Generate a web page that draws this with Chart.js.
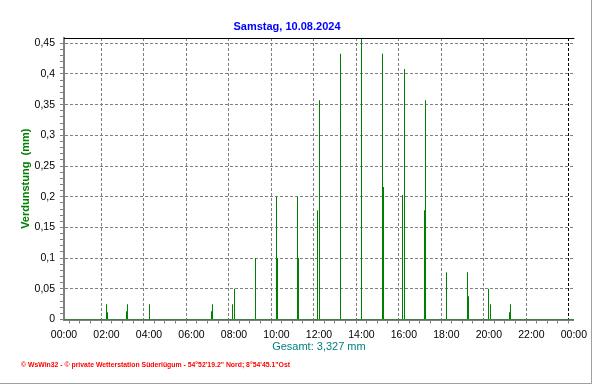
<!DOCTYPE html>
<html><head><meta charset="utf-8">
<script src="https://cdn.jsdelivr.net/npm/chart.js@4/dist/chart.umd.min.js"></script>
<style>html,body{margin:0;padding:0;background:#fff}canvas{display:block}</style>
</head><body>
<canvas id="c" width="592" height="384"></canvas>
<script>
const chartTitle = 'Samstag, 10.08.2024';
const yAxisTitle = 'Verdunstung  (mm)';
const totalText = 'Gesamt: 3,327 mm';
const footerText = '\u00A9 WsWin32 - \u00A9 private Wetterstation S\u00FCderl\u00FCgum - 54\u00B052\'19.2" Nord; 8\u00B054\'45.1"Ost';

const xTickLabels = ['00:00','02:00','04:00','06:00','08:00','10:00','12:00','14:00','16:00','18:00','20:00','22:00','00:00'];
const yTickLabels = ['0','0,05','0,1','0,15','0,2','0,25','0,3','0,35','0,4','0,45'];

// hourly values (minutes since midnight)
const hourlyMinutes = [120,180,240,420,480,540,600,660,720,780,840,900,960,1020,1080,1140,1200,1260];
const hourlyValues  = [0.025,0.025,0.025,0.025,0.05,0.1,0.2,0.2,0.357,0.433,0.461,0.433,0.408,0.357,0.077,0.077,0.05,0.025];
// secondary (short) bars next to the hourly lines
const detailMinutes = [123,177,417,477,603,663,717,903,957,1017,1143,1203,1257];
const detailValues  = [0.012,0.0135,0.0135,0.025,0.1,0.1,0.178,0.216,0.203,0.178,0.038,0.025,0.012];
// zero line
const baselineMinutes = [0,1440];
const baselineValues = [0,0];

const GREEN = '#008000';
const GRID = '#808080';
const tickFont = {family: "'Liberation Sans', Arial, sans-serif", size: 10.5};

const pts = (xs, ys) => xs.map((x, i) => ({x: x, y: ys[i]}));

const decor = {
  id: 'decor',
  beforeDraw(chart) {
    const c = chart.ctx;
    c.save(); c.fillStyle = '#fff'; c.fillRect(0, 0, chart.width, chart.height); c.restore();
  },
  beforeDatasetsDraw(chart) {
    // snap 1px bars to whole device pixels so they render crisp
    chart.data.datasets.forEach((ds, i) => {
      const meta = chart.getDatasetMeta(i);
      if (meta.type !== 'bar') return;
      meta.data.forEach(el => { el.x = Math.floor(el.x + 0.1) + 0.5; });
    });
  },
  afterDraw(chart) {
    const c = chart.ctx, a = chart.chartArea;
    c.save();
    c.strokeStyle = '#000'; c.lineWidth = 1;
    c.beginPath(); c.moveTo(a.left, Math.floor(a.top) + 0.5); c.lineTo(a.right + 0.5, Math.floor(a.top) + 0.5); c.stroke();
    c.strokeStyle = '#a0a0a0';
    c.beginPath(); c.moveTo(591.5, 0); c.lineTo(591.5, 384); c.moveTo(0, 383.5); c.lineTo(592, 383.5); c.stroke();
    c.fillStyle = '#ff0000';
    c.font = "bold 7px 'Liberation Sans', Arial, sans-serif";
    c.textBaseline = 'middle';
    c.textAlign = 'left';
    c.fillText(footerText, 21, 365.5, 269);
    c.restore();
  }
};

new Chart(document.getElementById('c'), {
  type: 'bar',
  data: {
    datasets: [
      {type: 'line', data: pts(baselineMinutes, baselineValues), borderColor: GREEN, borderWidth: 1, pointRadius: 0, fill: false, order: 0},
      {data: pts(hourlyMinutes, hourlyValues), backgroundColor: GREEN, barThickness: 1, grouped: false, inflateAmount: 0, order: 1},
      {data: pts(detailMinutes, detailValues), backgroundColor: GREEN, barThickness: 1, grouped: false, inflateAmount: 0, order: 2}
    ]
  },
  options: {
    responsive: false,
    animation: false,
    devicePixelRatio: 1,
    layout: {padding: {left: 0, right: 18, top: 0, bottom: 0.5}},
    plugins: {
      legend: {display: false},
      tooltip: {enabled: false},
      title: {
        display: true, text: chartTitle, color: '#0000ff',
        font: {family: "'Liberation Sans', Arial, sans-serif", size: 11, weight: 'bold'},
        padding: {top: 20.4, bottom: 4.4}
      }
    },
    scales: {
      x: {
        type: 'linear', min: 0, max: 1440, offset: false,
        afterFit(s) { s.height = 64; },
        afterBuildTicks(s) { const t = []; for (let v = 0; v <= 1440; v += 30) t.push({value: v}); s.ticks = t; },
        ticks: {
          autoSkip: false, maxRotation: 0, color: '#000', font: tickFont, padding: 5,
          callback: (v) => (v % 120 === 0 ? xTickLabels[v / 120] : '')
        },
        grid: {
          color: (ctx) => { const v = ctx.tick ? ctx.tick.value : 0; if (v === 0) return 'rgba(0,0,0,0)'; if (v === 1440) return '#000'; return v % 120 === 0 ? GRID : 'rgba(0,0,0,0)'; },
          tickColor: GRID, tickLength: 4, lineWidth: 1
        },
        border: {display: true, color: GRID, width: 2, dash: [3, 2]},
        title: {display: true, text: totalText, color: '#008080', font: {family: "'Liberation Sans', Arial, sans-serif", size: 11}, padding: {top: 0, bottom: 30.4}}
      },
      y: {
        type: 'linear', min: 0, max: 0.4586,
        afterFit(s) { s.width = 64; },
        afterBuildTicks(s) { const t = []; for (let i = 0; i <= 45; i++) t.push({value: i / 100}); s.ticks = t; },
        ticks: {
          autoSkip: false, color: '#000', font: tickFont, padding: 5,
          callback: (v) => { const k = Math.round(v * 100); return k % 5 === 0 ? yTickLabels[k / 5] : ''; }
        },
        grid: {
          color: (ctx) => { const v = ctx.tick ? Math.round(ctx.tick.value * 100) : 0; return (v !== 0 && v % 5 === 0) ? GRID : 'rgba(0,0,0,0)'; },
          tickColor: GRID, tickLength: 4, lineWidth: 1
        },
        border: {display: true, color: GRID, width: 2, dash: [3, 2]},
        title: {display: true, text: yAxisTitle, color: GREEN, font: {family: "'Liberation Sans', Arial, sans-serif", size: 11, weight: 'bold'}, padding: {top: 19, bottom: 0}}
      }
    }
  },
  plugins: [decor]
});
</script>
</body></html>
